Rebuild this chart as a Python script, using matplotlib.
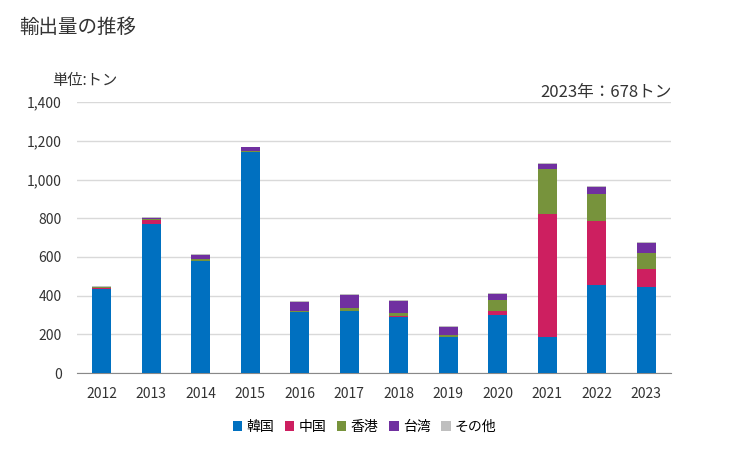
import matplotlib
matplotlib.use("Agg")
import matplotlib.pyplot as plt
import numpy as np

plt.rcParams['font.family'] = ['Noto Sans CJK JP', 'DejaVu Sans']

years = ['2012', '2013', '2014', '2015', '2016', '2017', '2018', '2019', '2020', '2021', '2022', '2023']
korea = [432, 768, 580, 1142, 318, 322, 288, 187, 298, 184, 454, 445]
china = [10, 22, 0, 0, 0, 0, 5, 0, 24, 638, 333, 93]
hongkong = [3, 8, 7, 5, 5, 16, 16, 10, 57, 234, 139, 82]
taiwan = [0, 5, 24, 19, 45, 64, 61, 42, 31, 23, 36, 52]
other = [3, 2, 4, 2, 5, 4, 5, 5, 6, 8, 7, 6]

series = [('韓国', korea, '#0070C0'),
          ('中国', china, '#CD1F60'),
          ('香港', hongkong, '#77933C'),
          ('台湾', taiwan, '#7030A0'),
          ('その他', other, '#BFBFBF')]

fig = plt.figure(figsize=(7.29, 4.5), dpi=100)
ax = fig.add_axes([0.1056, 0.171, 0.815, 0.602])

x = np.arange(len(years))
bottom = np.zeros(len(years))
for name, vals, color in series:
    ax.bar(x, vals, 0.38, bottom=bottom, color=color, label=name, zorder=3)
    bottom += np.array(vals)

ax.set_xlim(-0.5, len(years) - 0.5)
ax.set_ylim(0, 1400)
ax.set_yticks(range(0, 1401, 200))
ax.set_yticklabels([f'{v:,}' for v in range(0, 1401, 200)])
ax.set_xticks(x)
ax.set_xticklabels(years)
ax.tick_params(axis='both', length=0, labelsize=10, colors='#333333')
ax.tick_params(axis='x', pad=10)
ax.tick_params(axis='y', pad=11)
ax.grid(axis='y', color='#D9D9D9', linewidth=1, zorder=0)
for s in ['top', 'right', 'left']:
    ax.spines[s].set_visible(False)
ax.spines['bottom'].set_color('#898989')

fig.text(0.027, 0.94, '輸出量の推移', fontsize=14, va='center', color='#333333')
fig.text(0.071, 0.822, '単位:トン', fontsize=11, va='center', color='#333333')
fig.text(0.922, 0.795, '2023年：678トン', fontsize=12, va='center', ha='right', color='#333333')

handles, labels = ax.get_legend_handles_labels()
fig.legend(handles, labels, loc='center', bbox_to_anchor=(0.5, 0.052), ncol=5, frameon=False,
           fontsize=10, handlelength=0.7, handleheight=0.7, handletextpad=0.3,
           columnspacing=0.75)

fig.savefig('out.png', dpi=100)
